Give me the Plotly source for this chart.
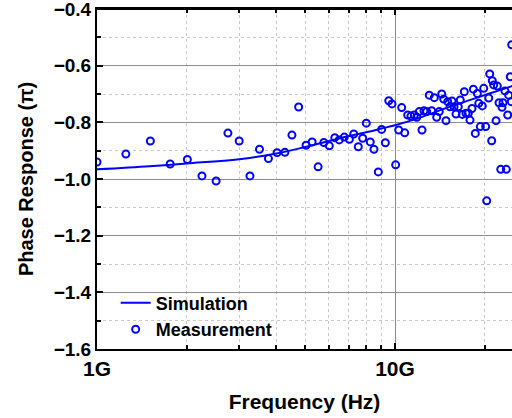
import plotly.graph_objects as go

# Simulated phase response (units of pi) vs frequency (GHz)
SIM_FREQ_GHZ = [1, 1.5, 2, 3, 4, 5, 6, 7, 8, 9, 10, 12, 15, 18, 20, 25, 30]
SIM_PHASE = [-0.966, -0.955, -0.945, -0.93, -0.91, -0.887, -0.866, -0.848,
             -0.835, -0.822, -0.81, -0.785, -0.748, -0.72, -0.704, -0.67, -0.64]

# Measured phase response (units of pi) vs frequency (GHz)
MEAS_FREQ_GHZ = [
    1.00, 1.25, 1.51, 1.76, 2.01, 2.25, 2.51, 2.75, 3.00, 3.26,
    3.51, 3.76, 4.02, 4.27, 4.51, 4.75, 5.03, 5.27, 5.52, 5.77,
    6.02, 6.28, 6.50, 6.76, 7.03, 7.27, 7.53, 7.79, 8.01, 8.26,
    8.50, 8.79, 9.02, 9.28, 9.53, 9.77, 10.05, 10.29, 10.53, 10.78,
    11.03, 11.31, 11.61, 11.83, 12.06, 12.32, 12.51, 12.77, 13.03, 13.28,
    13.55, 13.80, 14.08, 14.35, 14.57, 14.83, 15.03, 15.30, 15.54, 15.78,
    16.02, 16.31, 16.56, 16.82, 17.08, 17.31, 17.62, 17.85, 18.13, 18.32,
    18.60, 18.89, 19.10, 19.33, 19.63, 19.85, 20.15, 20.31, 20.63, 20.79,
    21.11, 21.21, 21.44, 21.83, 22.05, 22.34, 22.64, 22.86, 23.04, 23.39,
    23.63, 23.89, 24.07, 24.37, 24.56, 24.64,
]
MEAS_PHASE = [
    -0.940, -0.912, -0.866, -0.947, -0.931, -0.989, -1.007, -0.838, -0.866, -0.989,
    -0.895, -0.928, -0.907, -0.906, -0.845, -0.746, -0.881, -0.869, -0.957, -0.871,
    -0.883, -0.854, -0.862, -0.852, -0.860, -0.841, -0.886, -0.856, -0.803, -0.869,
    -0.895, -0.975, -0.825, -0.872, -0.724, -0.735, -0.950, -0.827, -0.748, -0.837,
    -0.774, -0.778, -0.774, -0.782, -0.762, -0.827, -0.759, -0.762, -0.704, -0.759,
    -0.713, -0.782, -0.762, -0.700, -0.718, -0.794, -0.727, -0.745, -0.725, -0.745,
    -0.771, -0.745, -0.721, -0.772, -0.692, -0.768, -0.768, -0.792, -0.751, -0.683,
    -0.839, -0.698, -0.733, -0.815, -0.742, -0.680, -0.815, -1.077, -0.714, -0.629,
    -0.865, -0.653, -0.668, -0.794, -0.672, -0.731, -0.966, -0.747, -0.731, -0.689,
    -0.966, -0.774, -0.704, -0.639, -0.727, -0.526,
]

X_TICKS = [1e9, 1e10]
X_TICK_TEXT = ["1G", "10G"]
X_MINOR = [k * 1e9 for k in range(2, 10)] + [k * 1e10 for k in range(2, 4)]
Y_TICKS = [-1.6, -1.4, -1.2, -1.0, -0.8, -0.6, -0.4]

BLUE = "#0000ff"
FONT = "Liberation Sans, Arial, sans-serif"

fig = go.Figure()
fig.add_trace(go.Scatter(
    x=[f * 1e9 for f in SIM_FREQ_GHZ], y=SIM_PHASE,
    mode="lines", name="Simulation",
    line=dict(color=BLUE, width=2, shape="spline"),
))
fig.add_trace(go.Scatter(
    x=[f * 1e9 for f in MEAS_FREQ_GHZ], y=MEAS_PHASE,
    mode="markers", name="Measurement",
    marker=dict(symbol="circle-open", size=7, color=BLUE, line=dict(width=2)),
))

fig.update_xaxes(
    type="log",
    range=[9, 9 + 415 / 298],
    tickvals=X_TICKS, ticktext=X_TICK_TEXT,
    ticks="inside", ticklen=6, tickwidth=1.5, tickcolor="black",
    showline=True, linecolor="black", linewidth=2, mirror="allticks",
    showgrid=True, gridcolor="#8c8c8c", gridwidth=1,
    minor=dict(tickvals=X_MINOR, ticks="inside", ticklen=4, tickcolor="black",
               showgrid=True, gridcolor="#c8c8c8", griddash="dot", gridwidth=1),
    tickfont=dict(family=FONT, size=21, color="black", weight="bold"),
    title=dict(text="Frequency (Hz)",
               font=dict(family=FONT, size=21, color="black", weight="bold")),
    zeroline=False, automargin=False, ticklabeloverflow="allow",
)
fig.update_yaxes(
    range=[-1.6, -0.4],
    tickvals=Y_TICKS, tickformat=".1f",
    ticks="inside", ticklen=6, tickwidth=1.5, tickcolor="black",
    showline=True, linecolor="black", linewidth=2,
    showgrid=True, gridcolor="#8c8c8c", gridwidth=1,
    minor=dict(dtick=0.1, ticks="inside", ticklen=4, tickcolor="black",
               showgrid=True, gridcolor="#c8c8c8", griddash="dot", gridwidth=1),
    tickfont=dict(family=FONT, size=19, color="black", weight="bold"),
    title=dict(text="Phase Response (π)",
               font=dict(family=FONT, size=20, color="black", weight="bold")),
    zeroline=False, automargin=False, ticklabeloverflow="allow",
)

# top frame line
fig.add_shape(type="line", xref="paper", yref="paper", x0=0, x1=1, y0=1, y1=1,
              line=dict(color="black", width=2))

fig.update_layout(
    width=512, height=418,
    margin=dict(l=97, r=0, t=9, b=69),
    plot_bgcolor="white", paper_bgcolor="white",
    showlegend=True,
    legend=dict(x=0.045, y=0.004, xanchor="left", yanchor="bottom",
                bgcolor="rgba(0,0,0,0)", tracegroupgap=0,
                font=dict(family=FONT, size=18, color="black", weight="bold")),
)

# drop the browser's default 8px body margin so the figure sits at (0, 0)
fig.write_html("out.html", config={"displayModeBar": False},
               post_script="document.body.style.margin='0';")
